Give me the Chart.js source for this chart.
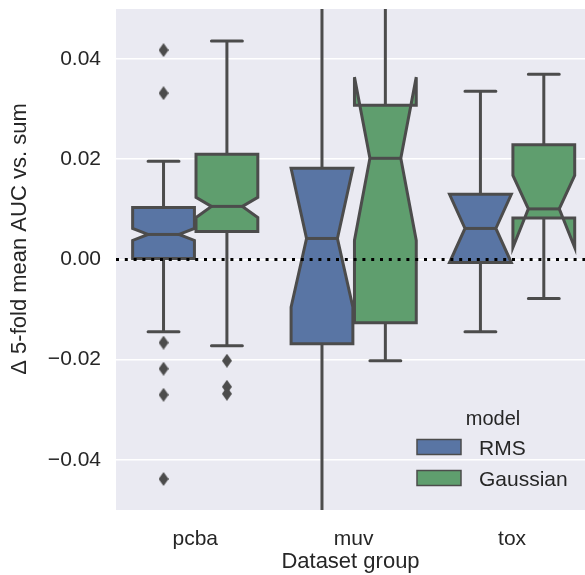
<!DOCTYPE html>
<html>
<head>
<meta charset="utf-8">
<script src="https://cdn.jsdelivr.net/npm/chart.js@4.4.1/dist/chart.umd.min.js"></script>
<style>
  html, body { margin: 0; padding: 0; background: #fff; overflow: hidden; }
</style>
</head>
<body>
<canvas id="boxChart" width="585" height="575"></canvas>
<script>
const categories = ['pcba', 'muv', 'tox'];
const seriesNames = ['RMS', 'Gaussian'];
const yTicks = [-0.04, -0.02, 0.00, 0.02, 0.04];

// box statistics, one value per category (pcba, muv, tox)
const rmsWhiskerLow  = [-0.0144, -0.0650, -0.0144];
const rmsQ1          = [ 0.0002, -0.0168, -0.0006];
const rmsNotchLow    = [ 0.0038, -0.0095, -0.0006];
const rmsMedian      = [ 0.0050,  0.0042,  0.0062];
const rmsNotchHigh   = [ 0.0062,  0.0182,  0.0130];
const rmsQ3          = [ 0.0104,  0.0182,  0.0130];
const rmsWhiskerHigh = [ 0.0196,  0.0650,  0.0336];
const rmsOutliers    = [[0.0418, 0.0332, -0.0166, -0.0218, -0.0270, -0.0438], [], []];

const gauWhiskerLow  = [-0.0172, -0.0202, -0.0078];
const gauQ1          = [ 0.0056, -0.0126,  0.0083];
const gauNotchLow    = [ 0.0084,  0.0038,  0.0024];
const gauMedian      = [ 0.0106,  0.0202,  0.0101];
const gauNotchHigh   = [ 0.0124,  0.0364,  0.0168];
const gauQ3          = [ 0.0210,  0.0308,  0.0229];
const gauWhiskerHigh = [ 0.0436,  0.0700,  0.0370];
const gauOutliers    = [[-0.0202, -0.0254, -0.0268], [], []];

const colors = ['#5975a4', '#5f9e6e'];
const gray = '#4c4c4c';
const textColor = '#262626';
const fontFamily = "'Liberation Sans', Arial, sans-serif";
const hueOffset = 0.2;
const boxHalf = 0.195;

const boxSeries = [
    { lo: rmsWhiskerLow, q1: rmsQ1, nlo: rmsNotchLow, med: rmsMedian, nhi: rmsNotchHigh, q3: rmsQ3, hi: rmsWhiskerHigh },
    { lo: gauWhiskerLow, q1: gauQ1, nlo: gauNotchLow, med: gauMedian, nhi: gauNotchHigh, q3: gauQ3, hi: gauWhiskerHigh },
];

function diamond() {
    const c = document.createElement('canvas');
    c.width = 10; c.height = 14;
    const g = c.getContext('2d');
    g.fillStyle = gray;
    g.beginPath();
    g.moveTo(5, 0); g.lineTo(10, 7); g.lineTo(5, 14); g.lineTo(0, 7);
    g.closePath();
    g.fill();
    return c;
}
const diamondImg = diamond();

function outlierPoints(list, offset) {
    const pts = [];
    list.forEach(function (vals, i) {
        vals.forEach(function (v) { pts.push({ x: i + offset, y: v }); });
    });
    return pts;
}

const boxPlugin = {
    id: 'boxes',
    beforeDraw: function (chart) {
        const a = chart.chartArea, ctx = chart.ctx;
        ctx.save();
        ctx.fillStyle = '#eaeaf2';
        ctx.fillRect(a.left, a.top, a.right - a.left, a.bottom - a.top);
        ctx.restore();
    },
    beforeDatasetsDraw: function (chart) {
        const a = chart.chartArea, ctx = chart.ctx;
        const xs = chart.scales.x, ys = chart.scales.y;
        const Y = function (v) { return ys.getPixelForValue(v); };
        ctx.save();
        ctx.beginPath();
        ctx.rect(a.left, a.top, a.right - a.left, a.bottom - a.top);
        ctx.clip();
        ctx.strokeStyle = gray;
        ctx.lineWidth = 3;
        boxSeries.forEach(function (s, k) {
            const off = k === 0 ? -hueOffset : hueOffset;
            categories.forEach(function (c, i) {
                const pos = i + off;
                const cx = xs.getPixelForValue(pos);
                const L = xs.getPixelForValue(pos - boxHalf);
                const R = xs.getPixelForValue(pos + boxHalf);
                const cL = xs.getPixelForValue(pos - boxHalf / 2);
                const cR = xs.getPixelForValue(pos + boxHalf / 2);
                // whiskers and caps
                ctx.lineCap = 'round';
                ctx.beginPath();
                ctx.moveTo(cx, Y(s.q1[i])); ctx.lineTo(cx, Y(s.lo[i]));
                ctx.moveTo(cx, Y(s.q3[i])); ctx.lineTo(cx, Y(s.hi[i]));
                ctx.moveTo(cL, Y(s.lo[i])); ctx.lineTo(cR, Y(s.lo[i]));
                ctx.moveTo(cL, Y(s.hi[i])); ctx.lineTo(cR, Y(s.hi[i]));
                ctx.stroke();
                // notched box
                ctx.lineCap = 'butt';
                ctx.lineJoin = 'miter';
                ctx.beginPath();
                ctx.moveTo(L, Y(s.q1[i]));
                ctx.lineTo(R, Y(s.q1[i]));
                ctx.lineTo(R, Y(s.nlo[i]));
                ctx.lineTo(cR, Y(s.med[i]));
                ctx.lineTo(R, Y(s.nhi[i]));
                ctx.lineTo(R, Y(s.q3[i]));
                ctx.lineTo(L, Y(s.q3[i]));
                ctx.lineTo(L, Y(s.nhi[i]));
                ctx.lineTo(cL, Y(s.med[i]));
                ctx.lineTo(L, Y(s.nlo[i]));
                ctx.closePath();
                ctx.fillStyle = colors[k];
                ctx.fill();
                ctx.stroke();
                // median
                ctx.beginPath();
                ctx.moveTo(cL, Y(s.med[i])); ctx.lineTo(cR, Y(s.med[i]));
                ctx.stroke();
            });
        });
        ctx.restore();
    },
    afterDatasetsDraw: function (chart) {
        const a = chart.chartArea, ctx = chart.ctx;
        const y0 = chart.scales.y.getPixelForValue(0);
        ctx.save();
        ctx.strokeStyle = '#000';
        ctx.lineWidth = 3;
        ctx.setLineDash([3, 5.8]);
        ctx.beginPath();
        ctx.moveTo(a.left, y0); ctx.lineTo(a.right, y0);
        ctx.stroke();
        ctx.restore();
    },
    afterDraw: function (chart) {
        const ctx = chart.ctx;
        ctx.save();
        // y axis title
        ctx.fillStyle = textColor;
        ctx.font = '22px ' + fontFamily;
        ctx.textAlign = 'center';
        ctx.textBaseline = 'middle';
        ctx.translate(20, 239);
        ctx.rotate(-Math.PI / 2);
        ctx.fillText('\u0394 5-fold mean AUC vs. sum', 0, 0);
        ctx.restore();

        // legend
        ctx.save();
        ctx.fillStyle = textColor;
        ctx.font = '20px ' + fontFamily;
        ctx.textAlign = 'center';
        ctx.textBaseline = 'alphabetic';
        ctx.fillText('model', 493, 425);
        ctx.font = '21px ' + fontFamily;
        ctx.textAlign = 'left';
        seriesNames.forEach(function (name, k) {
            const top = 439.5 + k * 31;
            ctx.fillStyle = colors[k];
            ctx.fillRect(417, top, 44, 15);
            ctx.strokeStyle = gray;
            ctx.lineWidth = 1.5;
            ctx.strokeRect(417, top, 44, 15);
            ctx.fillStyle = textColor;
            ctx.fillText(name, 479, top + 15.5);
        });
        ctx.restore();
    }
};

const config = {
    type: 'scatter',
    data: {
        datasets: [
            {
                label: seriesNames[0] + ' outliers',
                data: outlierPoints(rmsOutliers, -hueOffset),
                pointStyle: diamondImg,
            },
            {
                label: seriesNames[1] + ' outliers',
                data: outlierPoints(gauOutliers, hueOffset),
                pointStyle: diamondImg,
            },
        ],
    },
    options: {
        responsive: false,
        animation: false,
        layout: { autoPadding: false, padding: { top: 9, left: 0, right: 0, bottom: 0 } },
        plugins: {
            legend: { display: false },
            tooltip: { enabled: false },
        },
        scales: {
            x: {
                type: 'linear',
                min: -0.5,
                max: 2.46,
                grid: { display: false },
                border: { display: false },
                afterBuildTicks: function (scale) {
                    scale.ticks = categories.map(function (c, i) { return { value: i }; });
                },
                afterFit: function (scale) {
                    scale.height = 65;
                    scale.paddingLeft = 0;
                    scale.paddingRight = 0;
                },
                ticks: {
                    color: textColor,
                    padding: 9,
                    font: { family: fontFamily, size: 21 },
                    callback: function (v) { return categories[v]; },
                },
                title: {
                    display: true,
                    text: 'Dataset group',
                    color: textColor,
                    padding: { top: 0, bottom: 0 },
                    font: { family: fontFamily, size: 22 },
                },
            },
            y: {
                type: 'linear',
                min: -0.05,
                max: 0.05,
                grid: { color: '#ffffff', lineWidth: 1.6, drawTicks: false },
                border: { display: false },
                afterBuildTicks: function (scale) {
                    scale.ticks = yTicks.map(function (v) { return { value: v }; });
                },
                afterFit: function (scale) {
                    scale.width = 116;
                    scale.paddingTop = 0;
                    scale.paddingBottom = 0;
                },
                ticks: {
                    color: textColor,
                    padding: 15,
                    font: { family: fontFamily, size: 21 },
                    callback: function (v) {
                        return (v < 0 ? '\u2212' : '') + Math.abs(v).toFixed(2);
                    },
                },
            },
        },
    },
    plugins: [boxPlugin],
};

const boxChart = new Chart(document.getElementById('boxChart').getContext('2d'), config);
</script>
</body>
</html>
